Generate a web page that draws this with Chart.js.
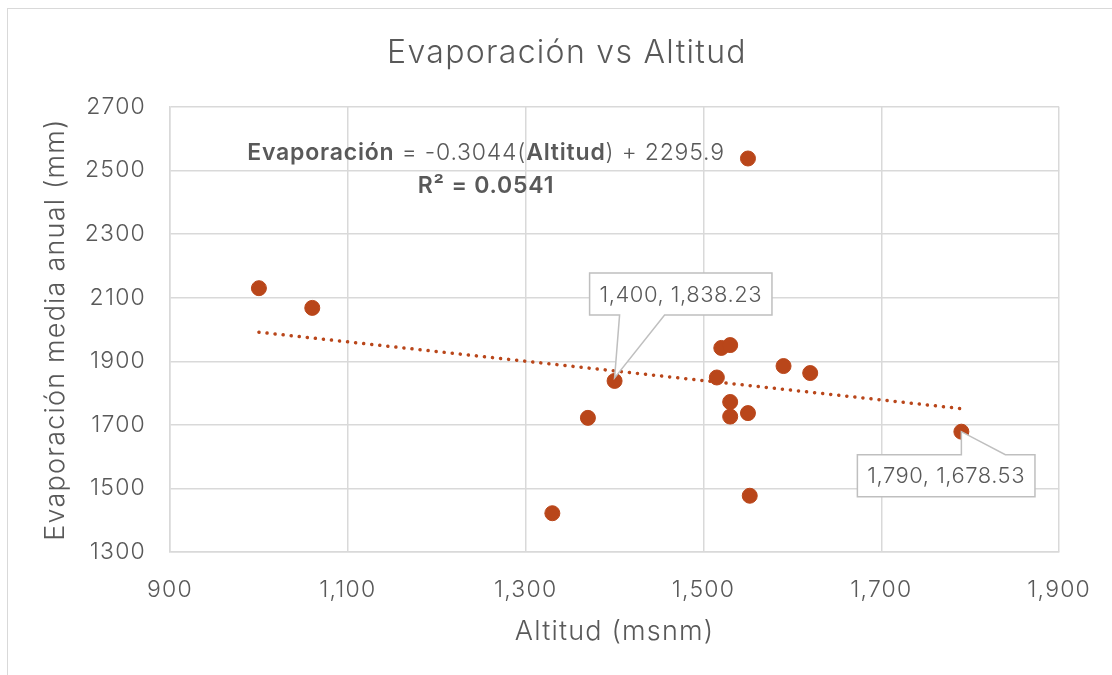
<!DOCTYPE html>
<html>
<head>
<meta charset="utf-8">
<script src="https://cdn.jsdelivr.net/npm/chart.js@4.4.1/dist/chart.umd.min.js"></script>
<style>
  html, body { margin: 0; padding: 0; background: #fff; }
  #wrap { position: relative; width: 1112px; height: 675px; }
  #frame { position: absolute; left: 7px; top: 8px; width: 1110px; height: 670px; border: 1px solid #D9D9D9; box-sizing: border-box; }
  canvas { position: absolute; left: 0; top: 0; }
</style>
</head>
<body>
<div id="wrap">
  <div id="frame"></div>
  <canvas id="scatter" width="1112" height="675"></canvas>
</div>
<script>
/* DATA */
const altitud = [1000, 1060, 1330, 1370, 1400, 1515, 1520, 1530, 1530, 1530, 1550, 1552, 1550, 1590, 1620, 1790];
const evaporacion = [2130, 2068, 1422, 1722, 1838.23, 1849, 1942, 1951, 1772, 1726, 1737, 1477, 2538, 1885, 1863, 1678.53];
const labeledAltitudes = [1400, 1790];
const slope = -0.3044;
const intercept = 2295.9;
const r2 = 0.0541;
const xTicks = [900, 1100, 1300, 1500, 1700, 1900];
const yTicks = [1300, 1500, 1700, 1900, 2100, 2300, 2500, 2700];

const FONT = "Inter, 'Noto Sans', sans-serif";
const TXT = "#595959";
const DOT = "#B9461A";

const points = altitud.map((x, i) => ({ x: x, y: evaporacion[i] }));
const xMin = Math.min(...altitud), xMax = Math.max(...altitud);
const trend = [
  { x: xMin, y: slope * xMin + intercept },
  { x: xMax, y: slope * xMax + intercept }
];

const fmt = v => v.toLocaleString("en-US", { maximumFractionDigits: 2 });

// wider letters, closer to the original's font
const spacing = {
  id: "spacing",
  beforeDraw(chart) { chart.ctx.letterSpacing = "1.2px"; }
};

/* title, equation, callouts */
const extras = {
  id: "extras",
  afterDraw(chart) {
    const { ctx, scales } = chart;
    ctx.save();
    ctx.fillStyle = TXT;
    ctx.textBaseline = "middle";
    ctx.textAlign = "center";
    ctx.letterSpacing = "1.3px";
    ctx.font = "300 32px " + FONT;
    ctx.fillText("Evaporación vs Altitud", 567, 53);

    // equation
    ctx.letterSpacing = "0.8px";
    const parts = [
      ["600 23px " + FONT, "Evaporación"],
      ["300 23px " + FONT, " = " + slope + "("],
      ["600 23px " + FONT, "Altitud"],
      ["300 23px " + FONT, ") + " + intercept]
    ];
    let total = 0;
    parts.forEach(p => { ctx.font = p[0]; total += ctx.measureText(p[1]).width; });
    let cx = 486 - total / 2;
    ctx.textAlign = "left";
    parts.forEach(p => { ctx.font = p[0]; ctx.fillText(p[1], cx, 153); cx += ctx.measureText(p[1]).width; });
    ctx.textAlign = "center";
    ctx.font = "600 23px " + FONT;
    ctx.fillText("R² = " + r2, 486, 186);

    // callouts
    ctx.letterSpacing = "0.5px";
    ctx.font = "300 22px " + FONT;
    labeledAltitudes.forEach(ax => {
      const i = altitud.indexOf(ax);
      const px = scales.x.getPixelForValue(altitud[i]);
      const py = scales.y.getPixelForValue(evaporacion[i]);
      const label = fmt(altitud[i]) + ", " + fmt(evaporacion[i]);
      const w = ctx.measureText(label).width + 20, h = 42;
      ctx.beginPath();
      let bx, by;
      if (py > 400) {
        // box below, pointer from top edge
        bx = px - 104; by = py + 23;
        ctx.moveTo(bx, by);
        ctx.lineTo(px, by);
        ctx.lineTo(px, py);
        ctx.lineTo(px + 44, by);
        ctx.lineTo(bx + w, by);
        ctx.lineTo(bx + w, by + h);
        ctx.lineTo(bx, by + h);
      } else {
        // box above, pointer from bottom edge
        bx = px - 25; by = py - 108;
        ctx.moveTo(bx, by);
        ctx.lineTo(bx + w, by);
        ctx.lineTo(bx + w, by + h);
        ctx.lineTo(px + 50, by + h);
        ctx.lineTo(px, py - 3);
        ctx.lineTo(px + 5, by + h);
        ctx.lineTo(bx, by + h);
      }
      ctx.closePath();
      ctx.fillStyle = "#fff";
      ctx.fill();
      ctx.strokeStyle = "#BFBFBF";
      ctx.lineWidth = 1.5;
      ctx.stroke();
      ctx.fillStyle = TXT;
      ctx.fillText(label, bx + w / 2, by + h / 2 + 1);
    });
    ctx.restore();
  }
};

new Chart(document.getElementById("scatter"), {
  type: "scatter",
  data: {
    datasets: [
      {
        type: "line",
        data: trend,
        borderColor: DOT,
        borderWidth: 3.5,
        borderDash: [0.1, 8],
        borderCapStyle: "round",
        pointRadius: 0,
        fill: false,
        order: 2
      },
      {
        data: points,
        backgroundColor: DOT,
        borderColor: DOT,
        pointRadius: 7.5,
        pointHoverRadius: 7.5,
        order: 1
      }
    ]
  },
  options: {
    responsive: false,
    animation: false,
    events: [],
    layout: { padding: { top: 107, right: 49, left: 0, bottom: 0 } },
    plugins: { legend: { display: false }, tooltip: { enabled: false } },
    scales: {
      x: {
        type: "linear",
        min: 900, max: 1900,
        afterBuildTicks: s => { s.ticks = xTicks.map(v => ({ value: v })); },
        afterFit: s => { s.height = 123; },
        grid: { color: "#D9D9D9", lineWidth: 1.5, drawTicks: false },
        border: { color: "#D9D9D9", width: 1.5 },
        ticks: { color: TXT, font: { family: FONT, size: 23, weight: 300 }, padding: 24, callback: v => fmt(v) },
        title: { display: true, text: "Altitud (msnm)", color: TXT, font: { family: FONT, size: 27, weight: 300 }, padding: { bottom: 27 } }
      },
      y: {
        min: 1300, max: 2700,
        afterBuildTicks: s => { s.ticks = yTicks.map(v => ({ value: v })); },
        afterFit: s => { s.width = 170; },
        grid: { color: "#D9D9D9", lineWidth: 1.5, drawTicks: false },
        border: { color: "#D9D9D9", width: 1.5 },
        ticks: { color: TXT, font: { family: FONT, size: 23, weight: 300 }, padding: 24, callback: v => String(v) },
        title: { display: true, text: "Evaporación media anual (mm)", color: TXT, font: { family: FONT, size: 27, weight: 300 }, padding: { top: 40 } }
      }
    }
  },
  plugins: [spacing, extras]
});
</script>
</body>
</html>
